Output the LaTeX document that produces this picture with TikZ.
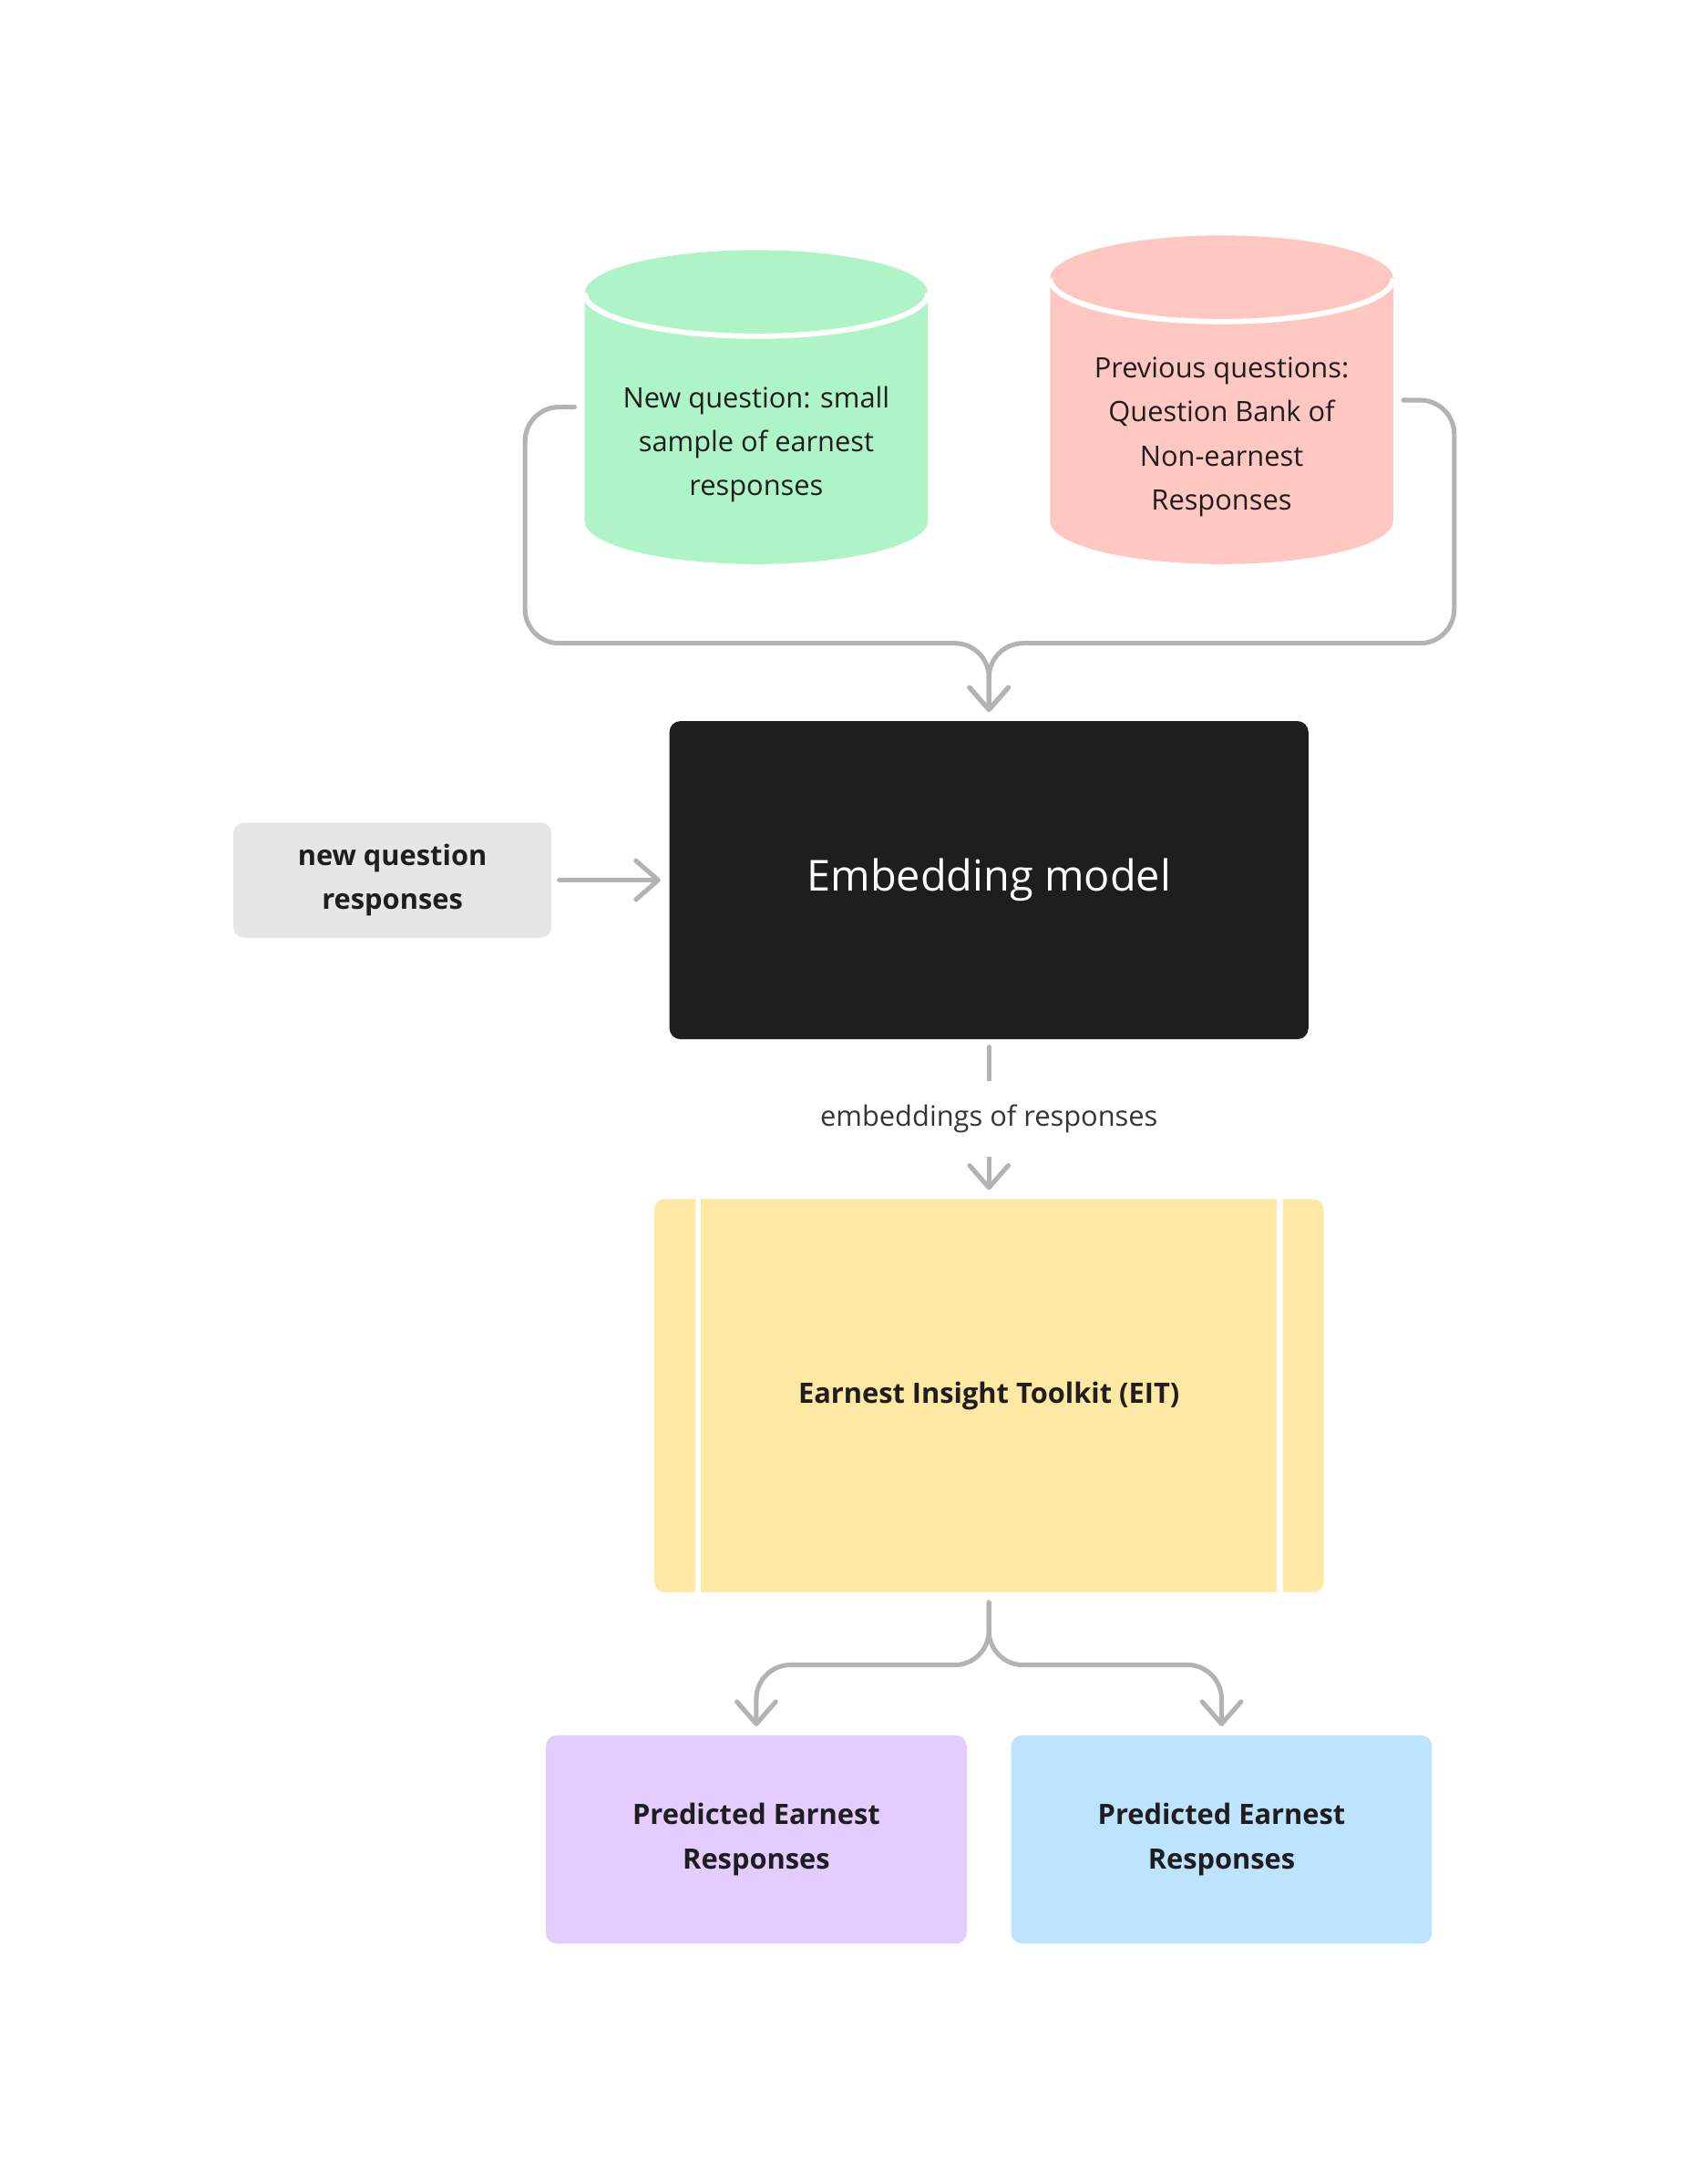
\documentclass[tikz,border=0pt]{standalone}
\usepackage{fontspec}
\setmainfont{Open Sans}
\usepackage{tikz}
\usetikzlibrary{arrows.meta}
\definecolor{dbgreen}{HTML}{AFF4C6}
\definecolor{dbpink}{HTML}{FFC7C2}
\definecolor{boxgray}{HTML}{E6E6E6}
\definecolor{boxblack}{HTML}{1E1E1E}
\definecolor{boxyellow}{HTML}{FFE8A3}
\definecolor{boxviolet}{HTML}{E4CCFF}
\definecolor{boxblue}{HTML}{BDE3FF}
\definecolor{linkgray}{HTML}{B3B3B3}
\definecolor{ink}{HTML}{1E1E1E}
\tikzset{flow/.style={draw=linkgray, line width=1.9pt, line cap=round, line join=round,
    shorten <=3pt, shorten >=3.5pt,
    -{Straight Barb[length=3.2mm, width=5.6mm, round]}}}
\tikzset{dbtext/.style={align=center, text=ink, font=\fontsize{11.5}{18}\selectfont}}
\tikzset{boxtext/.style={align=center, text=ink, font=\bfseries\fontsize{11.5}{18}\selectfont,
    rounded corners=4.5pt, inner sep=0pt}}

\begin{document}
\begin{tikzpicture}[x=0.2mm, y=-0.2mm]
                \useasboundingbox (0,0) rectangle (1220,1572);

                % databases
                \fill[dbgreen] (421,211) -- (421,375) arc[start angle=180, end angle=0, x radius=123.5, y radius=31]
                    -- (668,211) arc[start angle=0, end angle=-180, x radius=123.5, y radius=31] -- cycle;
                \draw[white, line width=2.2pt] (421,211) arc[start angle=180, end angle=0, x radius=123.5, y radius=31];
                \fill[dbpink] (756,200.5) -- (756,375) arc[start angle=180, end angle=0, x radius=123.5, y radius=31]
                    -- (1003,200.5) arc[start angle=0, end angle=-180, x radius=123.5, y radius=31] -- cycle;
                \draw[white, line width=2.2pt] (756,200.5) arc[start angle=180, end angle=0, x radius=123.5, y radius=31];

                \node[minimum width=49.4mm, minimum height=45.2mm, inner sep=0pt] (NewQ) at (544.5,293) {};
                \node[minimum width=49.4mm, minimum height=47.2mm, inner sep=0pt] (Prev) at (879.5,288) {};
                \node[dbtext] (NewQText) at (544.5,320) {New question: small\\sample of earnest\\responses};
                \node[dbtext] (PrevText) at (879.5,314.5) {Previous questions:\\Question Bank of\\Non-earnest\\Responses};

                % boxes
                \node[boxtext, fill=boxgray, minimum width=45.8mm, minimum height=16.6mm] (Resp) at (282.5,633.5) {new question\\responses};
                \node[fill=boxblack, text=white, rounded corners=4.5pt, minimum width=92mm, minimum height=45.8mm,
                    font=\fontsize{17.5}{21}\selectfont] (Emb) at (712,633.5) {Embedding model};
                \node[boxtext, fill=boxyellow, minimum width=96.4mm, minimum height=56.6mm] (EIT) at (712,1004.5) {};
                \draw[white, line width=2.5pt] ([xshift=18.2pt]EIT.north west) -- ([xshift=18.2pt]EIT.south west);
                \draw[white, line width=2.5pt] ([xshift=-18.2pt]EIT.north east) -- ([xshift=-18.2pt]EIT.south east);
                \node[boxtext, text=ink] at (EIT.center) {Earnest Insight Toolkit (EIT)};
                \node[boxtext, fill=boxviolet, minimum width=60.6mm, minimum height=30mm] (PredA) at (544.5,1324) {Predicted Earnest\\Responses};
                \node[boxtext, fill=boxblue, minimum width=60.6mm, minimum height=30mm] (PredB) at (879.5,1324) {Predicted Earnest\\Responses};

                % connectors
                \draw[flow, rounded corners=14pt, shorten <=4pt] (NewQ.west) -| (378,463) -| (Emb.north);
                \draw[flow, rounded corners=14pt, shorten <=4pt] (Prev.east) -| (1047,463) -| (Emb.north);
                \draw[flow] (Resp) -- (Emb);
                \draw[flow] (Emb) -- node[fill=white, text=ink!90, font=\fontsize{11.5}{18}\selectfont,
                    text height=8.5pt, text depth=2.5pt, inner ysep=10pt, inner xsep=2pt] {embeddings of responses} (EIT);
                \draw[flow, rounded corners=14pt, shorten <=4pt] (EIT.south) -- ++(0,52) -| (PredA.north);
                \draw[flow, rounded corners=14pt, shorten <=4pt] (EIT.south) -- ++(0,52) -| (PredB.north);

            \end{tikzpicture}
\end{document}
